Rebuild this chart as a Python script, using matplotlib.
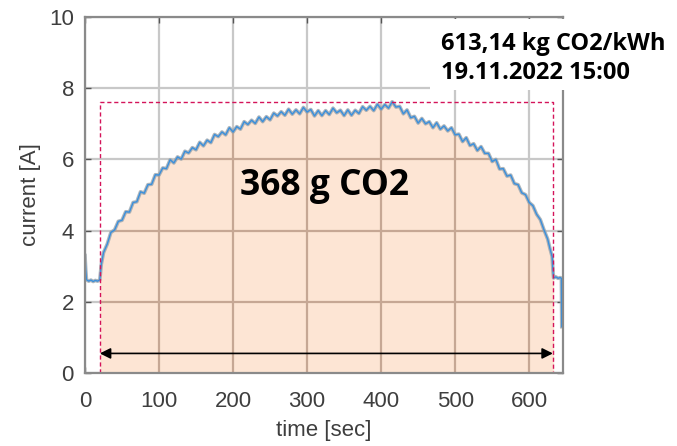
import matplotlib
matplotlib.use("Agg")
import matplotlib.pyplot as plt
from matplotlib.patches import Rectangle
import numpy as np

t_head = [0, 1, 2, 5, 8, 11, 14, 17, 20, 22]
i_head = [3.30, 2.90, 2.62, 2.58, 2.61, 2.57, 2.60, 2.58, 2.62, 3.05]

t_body = list(range(25, 630, 5))
i_body = [3.38, 3.62, 3.95, 4.02, 4.26, 4.29, 4.53, 4.52, 4.79, 4.81,
          5.09, 5.05, 5.29, 5.30, 5.57, 5.56, 5.76, 5.74, 5.99, 5.90,
          6.07, 6.01, 6.23, 6.18, 6.33, 6.27, 6.48, 6.38, 6.54, 6.47,
          6.70, 6.64, 6.77, 6.69, 6.89, 6.77, 6.92, 6.85, 7.06, 6.98,
          7.10, 7.01, 7.19, 7.06, 7.20, 7.11, 7.30, 7.22, 7.34, 7.24,
          7.41, 7.27, 7.39, 7.28, 7.46, 7.33, 7.40, 7.22, 7.37, 7.23,
          7.37, 7.26, 7.44, 7.31, 7.38, 7.23, 7.39, 7.24, 7.38, 7.29,
          7.48, 7.38, 7.49, 7.37, 7.55, 7.41, 7.54, 7.44, 7.62, 7.47,
          7.49, 7.28, 7.39, 7.17, 7.21, 7.02, 7.15, 7.00, 7.06, 6.89,
          7.03, 6.85, 6.94, 6.80, 6.89, 6.69, 6.71, 6.50, 6.61, 6.39,
          6.44, 6.25, 6.36, 6.17, 6.17, 5.94, 6.00, 5.73, 5.74, 5.53,
          5.56, 5.32, 5.29, 5.06, 5.01, 4.79, 4.70, 4.46, 4.31, 4.02,
          3.76]

t_tail = [628, 631, 632, 633, 636, 639, 642, 643.5, 644]
i_tail = [3.50, 3.27, 2.90, 2.67, 2.70, 2.66, 2.68, 2.66, 1.30]

t = np.array(t_head + t_body + t_tail, dtype=float)
current = np.array(i_head + i_body + i_tail)

t_start, t_end = 20, 632
i_level = 7.6
arrow_y = 0.55
co2_text = "368 g CO2"
info_lines = ["613,14 kg CO2/kWh", "19.11.2022 15:00"]

W, H = 677, 446
fig = plt.figure(figsize=(W / 100, H / 100), dpi=100)
ax = fig.add_axes([85 / W, 1 - 373 / H, 477.5 / W, 356 / H])

tick_font = "Liberation Sans"
bold_font = "Open Sans"
txt_col = "#3e3e3e"
grid_col = "#c8c8c8"
ax.set_xlim(0, 645)
ax.set_ylim(0, 10)
ax.set_xticks(np.arange(0, 700, 100))
ax.set_yticks(np.arange(0, 11, 2))
ax.grid(True, color=grid_col, lw=1.6, zorder=0)
ax.set_axisbelow(True)
for s in ax.spines.values():
    s.set_color("#8a8a8a")
    s.set_linewidth(1.6)
    s.set_zorder(6)
ax.tick_params(direction="in", length=4, width=1, color="#555555",
               top=True, right=True, labelsize=16, labelcolor=txt_col, pad=8)
ax.tick_params(axis="x", pad=13)
for lab in ax.get_xticklabels() + ax.get_yticklabels():
    lab.set_family(tick_font)
ax.set_xlabel("time [sec]", fontsize=16, color=txt_col, family=tick_font, labelpad=6)
ax.set_ylabel("current [A]", fontsize=16, color=txt_col, family=tick_font, labelpad=6)

# Flaeche unter der Kurve
mask = (t >= t_start) & (t <= t_end + 1)
poly = ax.fill_between(t[mask], 0, current[mask], color="#fde5d4", lw=0, zorder=1)
clip = poly.get_paths()[0]
for x in range(100, 700, 100):
    ln = ax.axvline(x, color="#c6a794", lw=1.6, zorder=2)
    ln.set_clip_path(clip, poly.get_transform())
for y in [2, 4, 6]:
    ln = ax.axhline(y, color="#c6a794", lw=1.6, zorder=2)
    ln.set_clip_path(clip, poly.get_transform())

# Messkurve
ax.plot(t, current, color="#9aa4ac", lw=2.6, alpha=0.8, zorder=3, solid_joinstyle="round")
ax.plot(t, current, color="#3a8fdc", lw=1.0, zorder=4)

# gestrichelter Rahmen
dash_col = "#d4145a"
ax.plot([t_start, t_start, t_end, t_end], [0, i_level, i_level, 0],
        color=dash_col, lw=1.0, ls=(0, (3, 2)), zorder=5)

ax.annotate("", xy=(t_end, arrow_y), xytext=(t_start, arrow_y),
            arrowprops=dict(arrowstyle="<|-|>", mutation_scale=16, color="black",
                            lw=1.2, shrinkA=0, shrinkB=0), zorder=5)

ax.text(209, 5.0, co2_text, fontsize=25.5, fontweight="bold", family=bold_font,
        ha="left", va="baseline", zorder=7)

# Infokasten oben rechts
fig.patches.append(Rectangle((430 / W, 1 - 90 / H), (W - 430) / W, 71 / H,
                             transform=fig.transFigure, facecolor="white",
                             edgecolor="none", zorder=10))
fig.text(441 / W, 1 - 50 / H, info_lines[0], fontsize=17, fontweight="bold",
         family=bold_font, ha="left", va="baseline", zorder=11)
fig.text(441 / W, 1 - 79 / H, info_lines[1], fontsize=17, fontweight="bold",
         family=bold_font, ha="left", va="baseline", zorder=11)

fig.savefig("out.png", dpi=100)
